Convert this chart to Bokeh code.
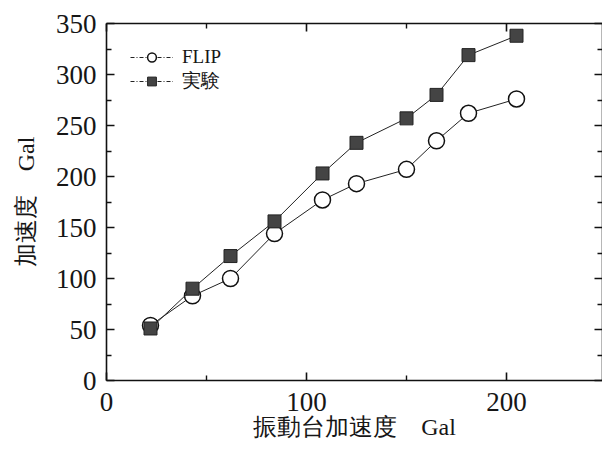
from bokeh.plotting import figure
from bokeh.models import Range1d, LinearAxis, FixedTicker, Legend, LegendItem, CustomJSTickFormatter
from bokeh.embed import file_html
from bokeh.resources import INLINE

# data
table_acc = [22, 43, 62, 84, 108, 125, 150, 165, 181, 205]
flip_vals = [54, 83, 100, 144, 177, 193, 207, 235, 262, 276]
exp_vals = [51, 90, 122, 156, 203, 233, 257, 280, 319, 338]
x_major = [0, 100, 200]
x_minor = [50, 150]
y_major = [0, 50, 100, 150, 200, 250, 300, 350]
y_minor = [25, 75, 125, 175, 225, 275, 325]
series_names = ["FLIP", "実験"]

SERIF = "Liberation Serif"
INK = "#161616"

p = figure(width=602, height=450, output_backend="svg", toolbar_location=None,
           x_range=Range1d(0, 248), y_range=Range1d(0, 350),
           x_axis_label="振動台加速度　Gal", y_axis_label="加速度　Gal")
p.min_border_left = 106
p.min_border_top = 23
p.min_border_right = 0
p.min_border_bottom = 70
p.xgrid.visible = False
p.ygrid.visible = False
p.outline_line_color = None
p.background_fill_color = "white"
p.border_fill_color = "white"

def style_axis(ax, ticks, minor, labels=True):
    ax.ticker = FixedTicker(ticks=ticks, minor_ticks=minor)
    ax.axis_line_color = "#111111"
    ax.axis_line_width = 1.6
    ax.major_tick_in = 8
    ax.major_tick_out = 0
    ax.minor_tick_in = 5
    ax.minor_tick_out = 0
    ax.major_tick_line_width = 1.6
    ax.minor_tick_line_width = 1.4
    ax.major_tick_line_color = "#111111"
    ax.minor_tick_line_color = "#111111"
    if labels:
        ax.major_label_text_font = SERIF
        ax.major_label_text_font_size = "27px"
        ax.major_label_text_color = INK
    else:
        ax.formatter = CustomJSTickFormatter(code="return ''")
        ax.major_label_standoff = 0

style_axis(p.xaxis[0], x_major, x_minor)
style_axis(p.yaxis[0], y_major, y_minor)
p.xaxis[0].major_label_standoff = 12
p.yaxis[0].major_label_standoff = 10
for ax in (p.xaxis[0], p.yaxis[0]):
    ax.axis_label_text_font = SERIF
    ax.axis_label_text_font_size = "24px"
    ax.axis_label_text_font_style = "normal"
    ax.axis_label_text_color = INK
p.xaxis[0].axis_label_standoff = 0
p.yaxis[0].axis_label_standoff = 14

top = LinearAxis()
style_axis(top, x_major, x_minor, labels=False)
p.add_layout(top, "above")
right = LinearAxis()
style_axis(right, y_major, y_minor, labels=False)
p.add_layout(right, "right")

l1 = p.line(table_acc, flip_vals, line_color="#222222", line_width=1)
c1 = p.scatter(table_acc, flip_vals, marker="circle", size=16, fill_color="white",
               line_color="#111111", line_width=1.5)
l2 = p.line(table_acc, exp_vals, line_color="#222222", line_width=1)
c2 = p.scatter(table_acc, exp_vals, marker="square", size=13, fill_color="#444444",
               line_color="#222222", line_width=1)

# dashed key lines for the legend (single-point lines draw nothing in the plot)
k1 = p.line(table_acc[:1], flip_vals[:1], line_color="#222222", line_width=1, line_dash="4 2 1 2")
k2 = p.line(table_acc[:1], exp_vals[:1], line_color="#222222", line_width=1, line_dash="4 2 1 2")

legend = Legend(items=[LegendItem(label=series_names[0], renderers=[k1, c1]),
                       LegendItem(label=series_names[1], renderers=[k2, c2])],
                location=(24, 286))
legend.margin = 0
legend.padding = 0
legend.spacing = 0
legend.glyph_width = 43
legend.glyph_height = 22
legend.label_height = 22
legend.label_standoff = 9
legend.label_text_font = SERIF
legend.label_text_font_size = "19px"
legend.label_text_color = INK
legend.background_fill_alpha = 0
legend.border_line_color = None
p.add_layout(legend, "center")

open("out.html", "w").write(file_html(p, INLINE))
